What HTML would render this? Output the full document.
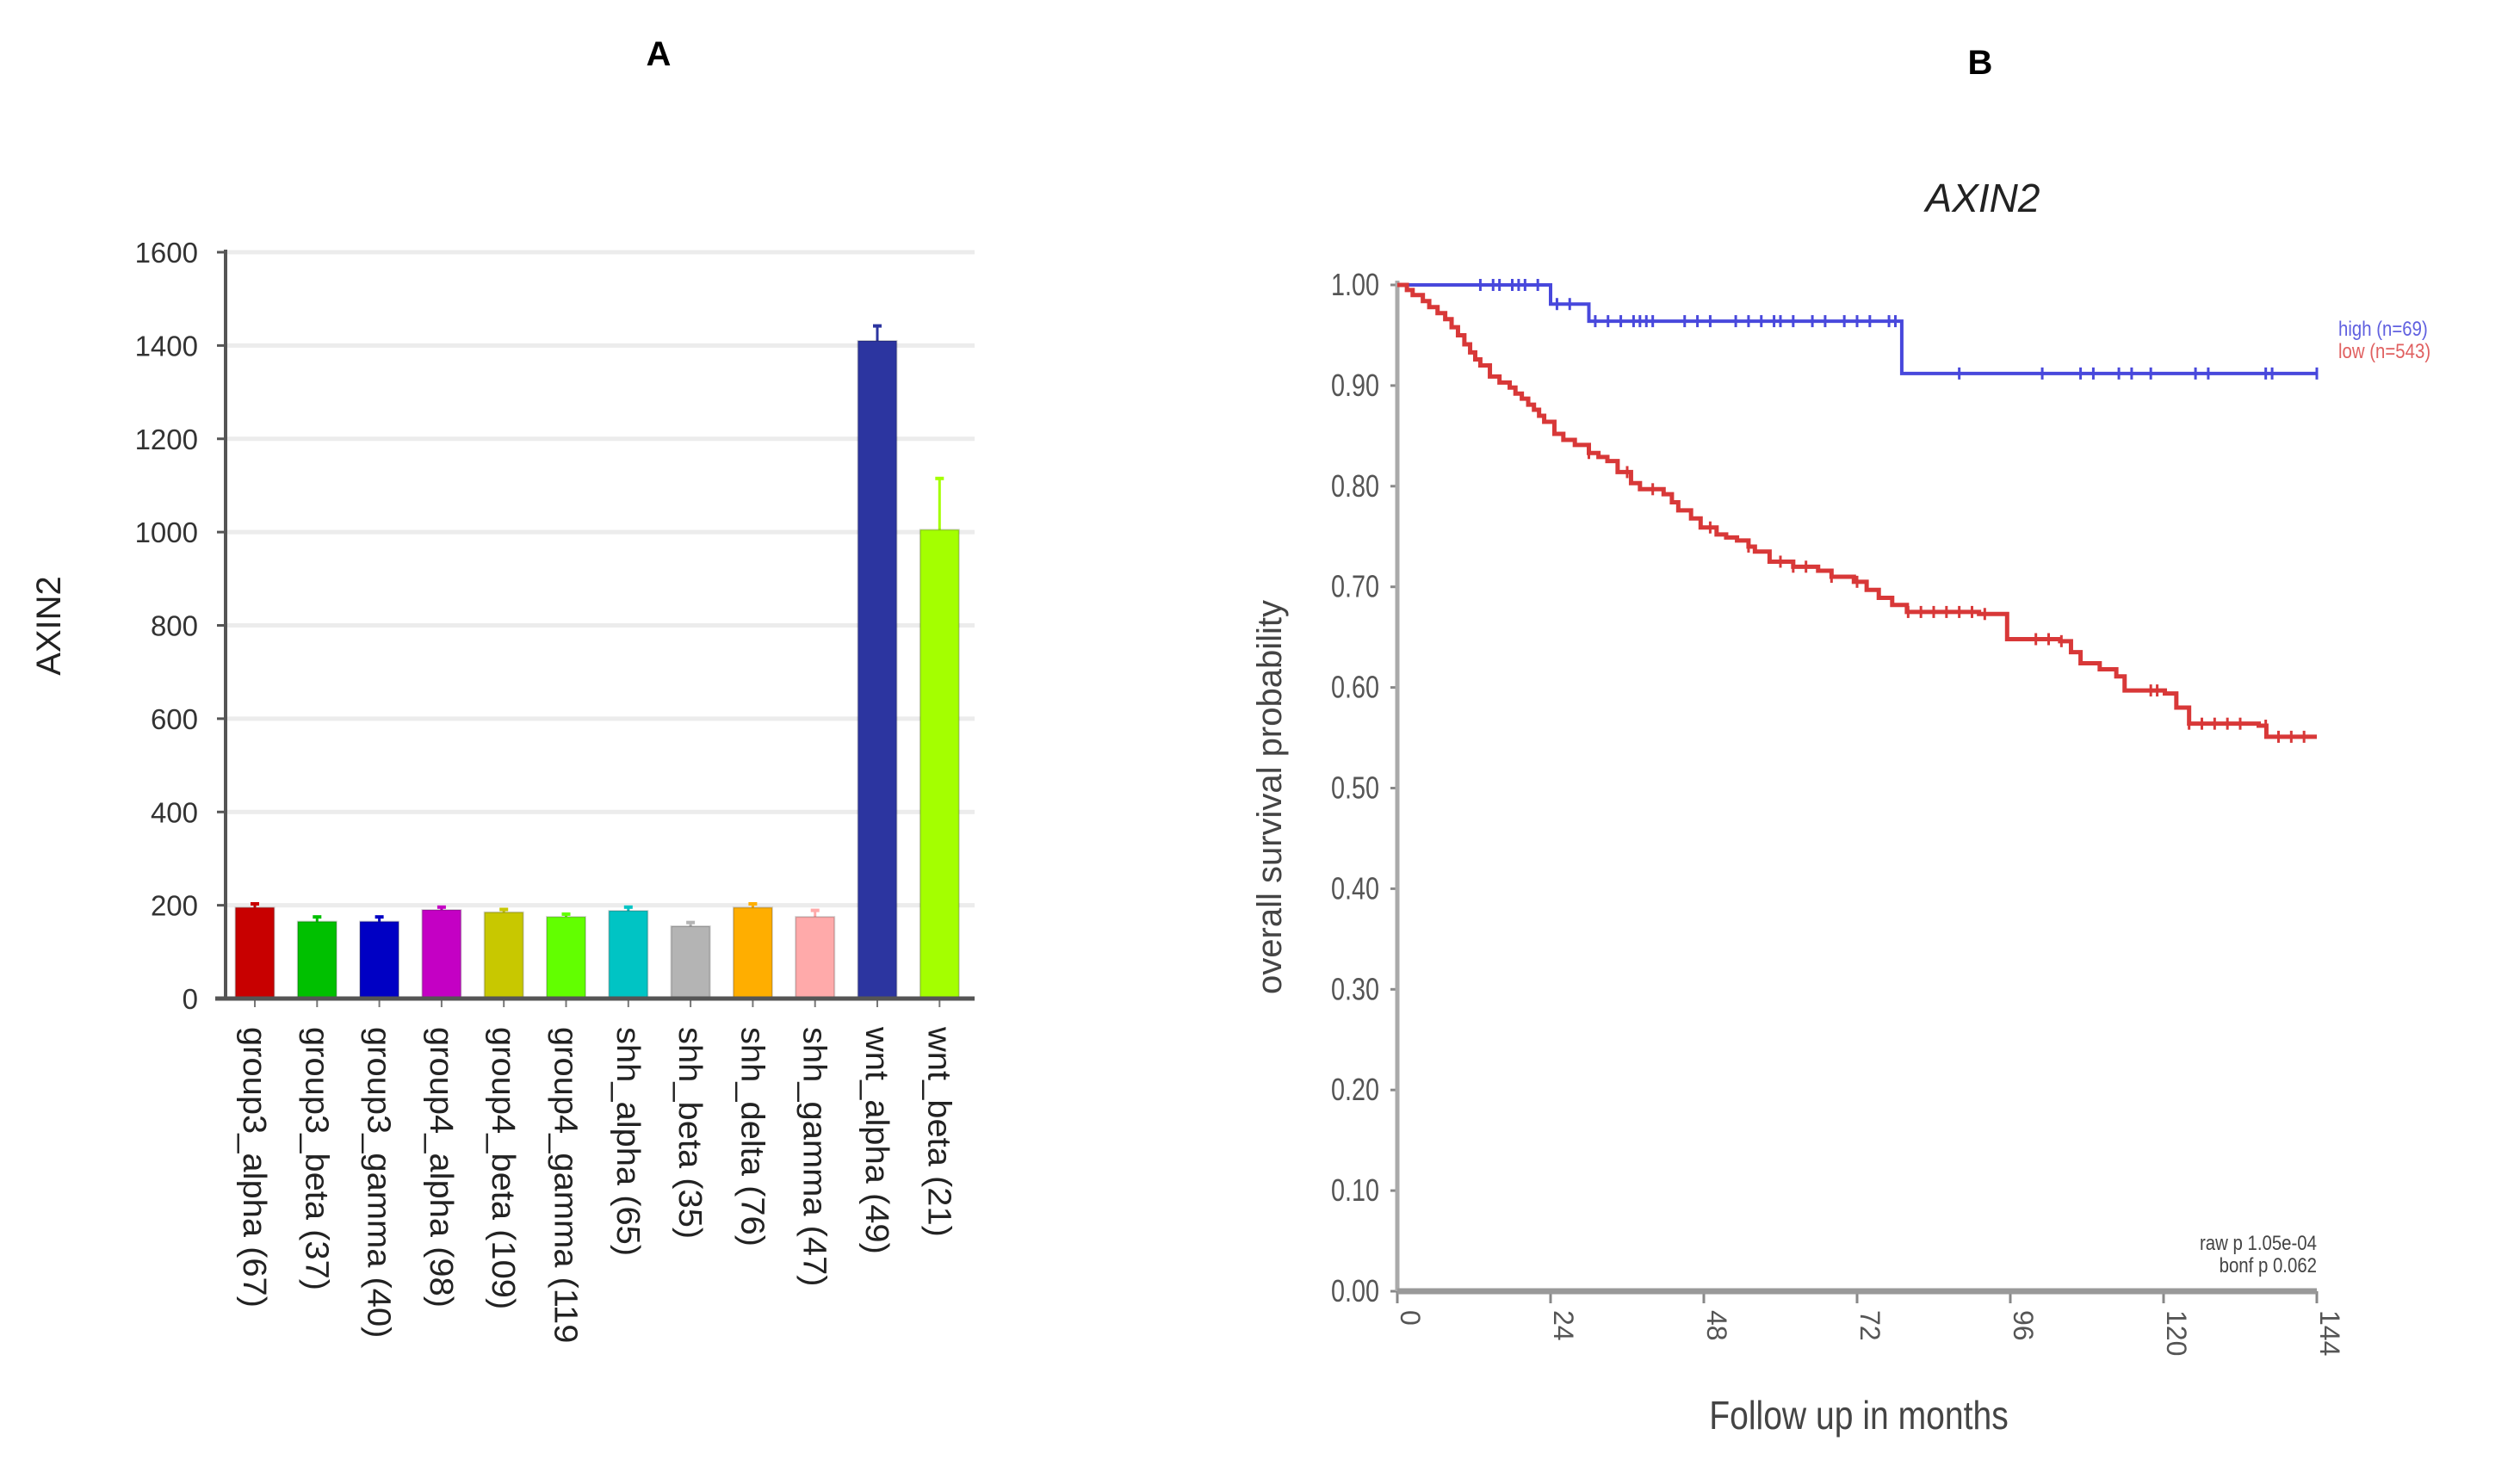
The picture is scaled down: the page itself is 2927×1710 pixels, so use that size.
<!DOCTYPE html>
<html><head><meta charset="utf-8"><style>
html,body{margin:0;padding:0;background:#fff;}
svg{display:block;font-family:"Liberation Sans",sans-serif;}
</style></head><body>
<svg id="fig" width="2927" height="1710" viewBox="0 0 2927 1710" xmlns="http://www.w3.org/2000/svg">
<text x="765" y="76" font-size="40" font-weight="bold" text-anchor="middle">A</text>
<text x="2300" y="86" font-size="40" font-weight="bold" text-anchor="middle">B</text>
<g id="barChart"></g>
<g id="kmChart"></g>
</svg>
<script>
const categories = ["group3_alpha (67)","group3_beta (37)","group3_gamma (40)","group4_alpha (98)","group4_beta (109)","group4_gamma (119","shh_alpha (65)","shh_beta (35)","shh_delta (76)","shh_gamma (47)","wnt_alpha (49)","wnt_beta (21)"];
const barValues = [195,165,165,190,185,175,188,155,195,175,1410,1005];
const barErrors = [8,10,10,6,6,6,8,8,8,14,32,110];
const barColors = ["#c80000","#00c000","#0000c4","#c400c4","#c8c800","#62ff00","#00c4c4","#b4b4b4","#ffae00","#ffaaaa","#2c35a0","#a4ff00"];
const yTicks = [0,200,400,600,800,1000,1200,1400,1600];

const highTimes = [0,24,30,79,144];
const highSurv = [1.0,0.981,0.964,0.912,0.912];
const highCensor = [13,15,16,18,19,20,22,25,27,31,33,35,37,38,39,40,45,47,49,53,55,57,59,60,62,65,67,70,72,74,77,78,88,101,107,109,113,115,118,125,127,136,137,144];
const lowTimes = [0,1.5,2.4,4,5,6.3,7.5,8.5,9.5,10.5,11.4,12.2,13,14.5,16,17.6,18.5,19.5,20.5,21.4,22.2,23,24.6,26,27.8,30,31.5,32.9,34.5,36.6,38,41.7,43,44,46,47.5,50,51.5,53.2,55,56,58.3,62,65.9,68,71.5,73.5,75.4,77.5,79.8,91.1,95.5,103.8,105.5,107,110,112.6,113.9,120.2,122,124,134.9,136.1,144];
const lowSurv = [1.0,0.995,0.99,0.984,0.978,0.972,0.966,0.958,0.95,0.941,0.933,0.926,0.92,0.909,0.903,0.898,0.892,0.887,0.881,0.876,0.87,0.864,0.852,0.846,0.841,0.833,0.829,0.825,0.814,0.803,0.797,0.792,0.784,0.776,0.768,0.759,0.752,0.749,0.746,0.74,0.735,0.725,0.72,0.716,0.71,0.705,0.697,0.689,0.682,0.675,0.673,0.648,0.646,0.635,0.624,0.618,0.611,0.597,0.594,0.58,0.564,0.562,0.551,0.551];
const lowCensor = [30,36,40,49,55,60,62,64,68,72,80,82,84,86,88,90,92,100,102,104,118,119,124,126,128,130,132,136,138,140,142];
const kmYTicks = [0,0.1,0.2,0.3,0.4,0.5,0.6,0.7,0.8,0.9,1.0];
const kmXTicks = [0,24,48,72,96,120,144];

const NS="http://www.w3.org/2000/svg";
function mk(tag, attrs, parent, text){const e=document.createElementNS(NS,tag);for(const k in attrs)e.setAttribute(k,attrs[k]);if(text!==undefined)e.textContent=text;parent.appendChild(e);return e;}

// ---- Bar chart
const bc=document.getElementById('barChart');
const bx0=262,bx1=1132,by0=1160,by1=293;
const yS=v=>by0-(v/1600)*(by0-by1);
const step=72.3, firstC=296, bw=45;
const xS=i=>firstC+i*step;
yTicks.forEach(t=>{
  if(t>0){const g=mk('line',{x1:bx0,x2:bx1,y1:yS(t),y2:yS(t),stroke:'#ececec','stroke-width':5},bc);
  
  }
  const tk=mk('line',{x1:bx0-10,x2:bx0,y1:yS(t),y2:yS(t),stroke:'#555','stroke-width':3},bc);
  
  
  const tl=mk('text',{x:230,y:yS(t)+12,'font-size':33,'text-anchor':'end',fill:'#333'},bc,String(t));
  
  
});
categories.forEach((c,i)=>{
  const cx=xS(i), v=barValues[i], e=barErrors[i];
  const el=mk('line',{x1:cx,x2:cx,y1:yS(v),y2:yS(v+e),stroke:barColors[i],'stroke-width':3},bc);
  
  
  const ec=mk('line',{x1:cx-5,x2:cx+5,y1:yS(v+e),y2:yS(v+e),stroke:barColors[i],'stroke-width':4},bc);
  
  
  const r=mk('rect',{x:cx-bw/2,y:yS(v),width:bw,height:by0-yS(v),fill:barColors[i],stroke:'rgba(0,0,0,0.18)','stroke-width':2},bc);
  
  
  const tk=mk('line',{x1:cx,x2:cx,y1:by0,y2:by0+10,stroke:'#777','stroke-width':2},bc);
  
  
  const tl=mk('text',{x:0,y:0,'font-size':38,fill:'#222',transform:`translate(${cx-13},1193) rotate(90) scale(1.05,1)`},bc,c);
  
  
});
const ya=mk('line',{x1:bx0,x2:bx0,y1:by1-3,y2:by0,stroke:'#555','stroke-width':4},bc);


const xa=mk('line',{x1:bx0-12,x2:bx1,y1:by0,y2:by0,stroke:'#555','stroke-width':5},bc);


const yt=mk('text',{x:0,y:0,'font-size':40,fill:'#222','text-anchor':'middle',transform:'translate(70,727) rotate(-90)'},bc,'AXIN2');



// ---- KM chart
const km=document.getElementById('kmChart');
const kx0=1623,kx1=2691,ky0=1500,ky1=331;
const kX=t=>kx0+t/144*(kx1-kx0);
const kY=s=>ky0-s*(ky0-ky1);
const ti=mk('text',{x:2303,y:246,'font-size':46,'font-style':'italic','text-anchor':'middle',fill:'#222'},km,'AXIN2');


kmYTicks.forEach(t=>{
  const tk=mk('line',{x1:kx0-8,x2:kx0,y1:kY(t),y2:kY(t),stroke:'#888','stroke-width':3},km);
  
  
  const tl=mk('text',{x:0,y:0,'font-size':36,'text-anchor':'end',fill:'#555',transform:`translate(1602,${kY(t)+12}) scale(0.8,1)`},km,t.toFixed(2));
  
  
});
kmXTicks.forEach(t=>{
  const tk=mk('line',{x1:kX(t),x2:kX(t),y1:ky0,y2:ky0+14,stroke:'#888','stroke-width':3},km);
  
  
  const tl=mk('text',{x:0,y:0,'font-size':32,fill:'#555',transform:`translate(${kX(t)+4},1522) rotate(90)`},km,String(t));
  
  
});
const kya=mk('line',{x1:kx0,x2:kx0,y1:ky1-5,y2:ky0,stroke:'#aaa','stroke-width':5},km);


const kxa=mk('line',{x1:kx0,x2:kx1,y1:ky0,y2:ky0,stroke:'#999','stroke-width':7},km);


function stepPath(ts,ss){let d=`M${kX(ts[0])},${kY(ss[0])}`;for(let i=1;i<ts.length;i++){d+=` H${kX(ts[i])} V${kY(ss[i])}`;}return d;}
function survAt(ts,ss,t){let s=ss[0];for(let i=0;i<ts.length;i++){if(ts[i]<=t)s=ss[i];}return s;}
const hp=mk('path',{d:stepPath(highTimes,highSurv),fill:'none',stroke:'#4848dc','stroke-width':4},km);


highCensor.forEach(t=>{const y=kY(survAt(highTimes,highSurv,t));
  const c=mk('line',{x1:kX(t),x2:kX(t),y1:y-7,y2:y+7,stroke:'#4848dc','stroke-width':3},km);
  
  });
const lp=mk('path',{d:stepPath(lowTimes,lowSurv),fill:'none',stroke:'#d83838','stroke-width':5},km);


lowCensor.forEach(t=>{const y=kY(survAt(lowTimes,lowSurv,t));
  const c=mk('line',{x1:kX(t),x2:kX(t),y1:y-7,y2:y+7,stroke:'#d83838','stroke-width':3},km);
  
  });
const lg1=mk('text',{x:0,y:0,'font-size':24,fill:'#6060e0',transform:'translate(2716,390) scale(0.85,1)'},km,'high (n=69)');


const lg2=mk('text',{x:0,y:0,'font-size':24,fill:'#e06060',transform:'translate(2716,416) scale(0.85,1)'},km,'low (n=543)');


const p1=mk('text',{x:0,y:0,'font-size':24,fill:'#444','text-anchor':'end',transform:'translate(2691,1452) scale(0.85,1)'},km,'raw p 1.05e-04');


const p2=mk('text',{x:0,y:0,'font-size':24,fill:'#444','text-anchor':'end',transform:'translate(2691,1478) scale(0.85,1)'},km,'bonf p 0.062');


const xt=mk('text',{x:0,y:0,'font-size':46,fill:'#444','text-anchor':'middle',transform:'translate(2159,1660) scale(0.85,1)'},km,'Follow up in months');


const kyt=mk('text',{x:0,y:0,'font-size':40,fill:'#444','text-anchor':'middle',transform:'translate(1488,926) rotate(-90)'},km,'overall survival probability');


</script>
</body></html>
